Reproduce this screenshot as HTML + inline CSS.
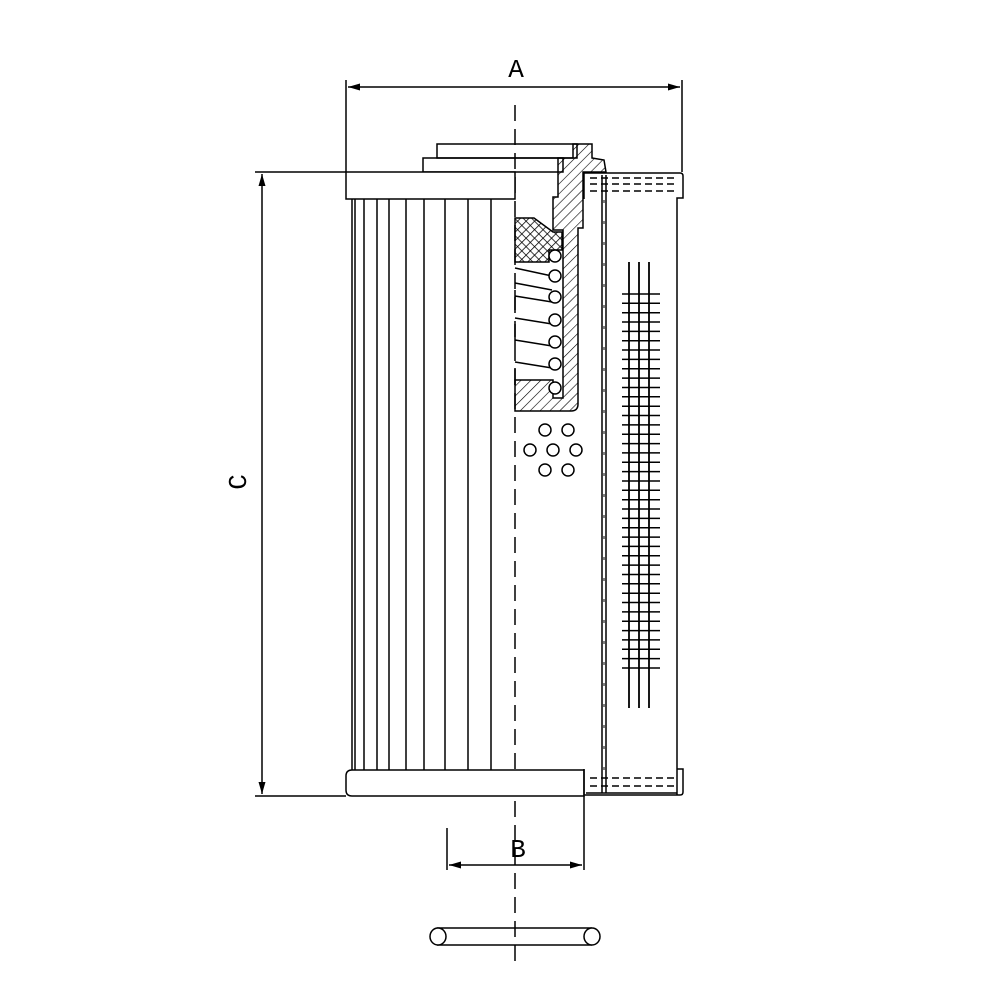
<!DOCTYPE html>
<html><head><meta charset="utf-8"><style>html,body{margin:0;padding:0;background:#fff}svg{display:block}</style></head>
<body>
<svg width="1000" height="1000" viewBox="0 0 1000 1000" xmlns="http://www.w3.org/2000/svg" font-family="Liberation Mono, monospace">
<defs>
<pattern id="h" width="7" height="7" patternUnits="userSpaceOnUse" patternTransform="rotate(45)"><line x1="0" y1="0" x2="0" y2="7" stroke="#000" stroke-width="1.2"/></pattern>
<pattern id="x" width="6" height="6" patternUnits="userSpaceOnUse" patternTransform="rotate(45)"><path d="M0 0V6M0 0H6" stroke="#000" stroke-width="1.5" fill="none"/></pattern>
<marker id="ar" viewBox="0 0 12 7" refX="12" refY="3.5" markerWidth="12" markerHeight="7" orient="auto-start-reverse" markerUnits="userSpaceOnUse"><path d="M0 0L12 3.5L0 7Z" fill="#000"/></marker>
</defs>
<g stroke="#000" stroke-width="1.5" fill="none">
<line x1="346" y1="80" x2="346" y2="172"/><line x1="682" y1="80" x2="682" y2="172"/>
<line x1="348" y1="87" x2="680" y2="87" marker-start="url(#ar)" marker-end="url(#ar)"/>
<line x1="255" y1="172" x2="346" y2="172"/><line x1="255" y1="796" x2="346" y2="796"/>
<line x1="262" y1="174" x2="262" y2="794" marker-start="url(#ar)" marker-end="url(#ar)"/>
<line x1="447" y1="828" x2="447" y2="870"/><line x1="584" y1="796" x2="584" y2="870"/>
<line x1="449" y1="865" x2="582" y2="865" marker-start="url(#ar)" marker-end="url(#ar)"/>
<line x1="515" y1="105" x2="515" y2="965" stroke-dasharray="16,8"/>
<rect x="437" y="144" width="140" height="14"/>
<rect x="423" y="158" width="140" height="14"/>
<rect x="346" y="172" width="169" height="27" fill="#fff"/>
<g>
<line x1="352" y1="199" x2="352" y2="770"/><line x1="355" y1="199" x2="355" y2="770"/>
<line x1="364" y1="199" x2="364" y2="770"/><line x1="377" y1="199" x2="377" y2="770"/>
<line x1="389" y1="199" x2="389" y2="770"/><line x1="406" y1="199" x2="406" y2="770"/>
<line x1="424" y1="199" x2="424" y2="770"/><line x1="445" y1="199" x2="445" y2="770"/>
<line x1="468" y1="199" x2="468" y2="770"/><line x1="491" y1="199" x2="491" y2="770"/>
</g>
<path d="M352 770H584V796H352Q346 796 346 790V776Q346 770 352 770Z" fill="#fff"/>
<path d="M573 144H592V158L604 160L606 172H583V228H578V404Q578 411 571 411H515V380H553V398H563V230H553V197H558V158H573Z" fill="url(#h)"/>
<path d="M515 218H534L553 232H562V250H549V262H515Z" fill="url(#x)"/>
<g fill="#fff">
<path d="M515 268L552 276M515 283L552 290M515 290V310M515 296L552 302M515 318L552 324M515 324V345M515 340L552 346M515 362L552 368M515 368V385"/>
<circle cx="555" cy="256" r="6"/><circle cx="555" cy="276" r="6"/><circle cx="555" cy="297" r="6"/>
<circle cx="555" cy="320" r="6"/><circle cx="555" cy="342" r="6"/><circle cx="555" cy="364" r="6"/><circle cx="555" cy="388" r="6"/>
</g>
<circle cx="545" cy="430" r="6"/><circle cx="568" cy="430" r="6"/>
<circle cx="530" cy="450" r="6"/><circle cx="553" cy="450" r="6"/><circle cx="576" cy="450" r="6"/>
<circle cx="545" cy="470" r="6"/><circle cx="568" cy="470" r="6"/>
<path d="M584 199V173H680Q683 173 683 176V198H677V795"/>
<path d="M584 769V795H680Q683 795 683 792V769H677"/>
<g stroke-dasharray="7,4" stroke-width="1.5">
<line x1="590" y1="178" x2="676" y2="178"/><line x1="590" y1="184" x2="676" y2="184"/><line x1="590" y1="191" x2="676" y2="191"/>
<line x1="590" y1="778" x2="676" y2="778"/><line x1="590" y1="786" x2="676" y2="786"/>
</g>
<line x1="586" y1="793" x2="677" y2="793"/>
<line x1="602" y1="175" x2="602" y2="793"/><line x1="606" y1="175" x2="606" y2="793"/>
<line x1="604" y1="200" x2="604" y2="780" stroke-dasharray="3,18" stroke-width="1"/>
<g stroke-width="1.8">
<line x1="629" y1="262" x2="629" y2="708"/><line x1="639" y1="262" x2="639" y2="708"/><line x1="649" y1="262" x2="649" y2="708"/>
</g>
<path stroke-width="1.5" d="M622 294H660M622 303.3H660M622 312.7H660M622 322H660M622 331.4H660M622 340.7H660M622 350H660M622 359.4H660M622 368.8H660M622 378.1H660M622 387.5H660M622 396.8H660M622 406.2H660M622 415.5H660M622 424.9H660M622 434.2H660M622 443.6H660M622 452.9H660M622 462.3H660M622 471.6H660M622 481H660M622 490.3H660M622 499.7H660M622 509H660M622 518.4H660M622 527.7H660M622 537.1H660M622 546.4H660M622 555.8H660M622 565.1H660M622 574.5H660M622 583.8H660M622 593.2H660M622 602.5H660M622 611.9H660M622 621.2H660M622 630.6H660M622 639.9H660M622 649.3H660M622 658.6H660M622 668H660"/>
<line x1="437" y1="928" x2="592" y2="928"/><line x1="437" y1="945" x2="592" y2="945"/>
<ellipse cx="438" cy="936.5" rx="8" ry="8.5" fill="#fff"/><ellipse cx="592" cy="936.5" rx="8" ry="8.5" fill="#fff"/>
</g>
<g font-size="26" fill="#000" text-anchor="middle">
<text x="516" y="77">A</text>
<text x="518" y="857">B</text>
<text x="0" y="0" transform="translate(246,482) rotate(-90)">C</text>
</g>
</svg>
</body></html>
